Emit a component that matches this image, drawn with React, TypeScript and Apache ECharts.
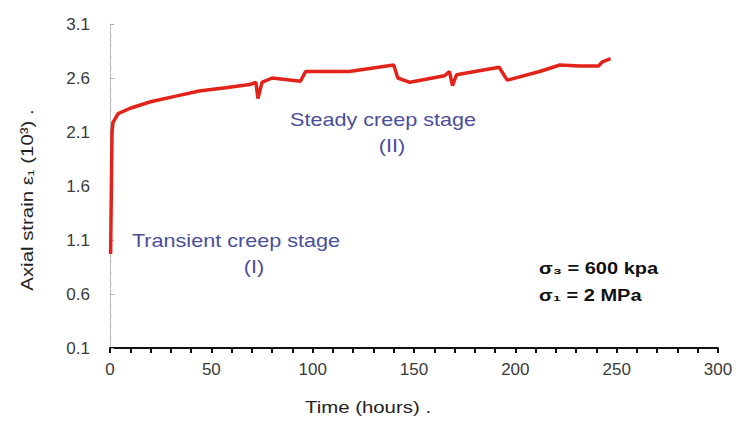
import React, { useEffect, useRef } from "react";
import * as echarts from "echarts";

const timeHours = [0.3, 1, 1.5, 4, 10, 20, 32, 44, 57, 69, 72, 73, 75, 80, 94, 96.5, 118, 140, 142, 148, 165, 167.5, 169, 171, 192, 196, 212, 222, 231.5, 241, 243, 247];
const axialStrain = [0.97, 2.1, 2.19, 2.27, 2.32, 2.38, 2.43, 2.48, 2.51, 2.54, 2.56, 2.41, 2.56, 2.6, 2.57, 2.66, 2.66, 2.72, 2.6, 2.56, 2.62, 2.66, 2.53, 2.63, 2.7, 2.58, 2.66, 2.72, 2.71, 2.71, 2.75, 2.78];
const xTickLabels = [0, 50, 100, 150, 200, 250, 300];
const yTickLabels = [0.1, 0.6, 1.1, 1.6, 2.1, 2.6, 3.1];

const FONT = "'Liberation Sans', Arial, sans-serif";
const ANN = "#4b4e99";

export default function App() {
  const ref = useRef<HTMLDivElement>(null);
  useEffect(() => {
    if (!ref.current) return;
    const chart = echarts.init(ref.current, undefined, { renderer: "svg" });
    const data = timeHours.map((t, i) => [t, axialStrain[i]]);
    const txt = (x: number, y: number, text: string, font: string, fill: string, align: string, sx: number, rotation = 0) => ({
      type: "text",
      x,
      y,
      scaleX: sx,
      rotation,
      style: { text, font, fill, align, verticalAlign: "middle" },
    });
    chart.setOption({
      animation: false,
      backgroundColor: "#ffffff",
      grid: { left: 110, right: 21, top: 24, bottom: 73, containLabel: false },
      xAxis: {
        type: "value",
        min: 0,
        max: 300,
        interval: 10,
        axisLine: { show: true, lineStyle: { color: "#111", width: 2 } },
        axisTick: { show: true, length: 5, lineStyle: { color: "#111", width: 2 } },
        axisLabel: {
          fontFamily: FONT,
          fontSize: 17,
          color: "#3a3a3a",
          margin: 13,
          showMinLabel: true,
          showMaxLabel: true,
          formatter: (v: number) => (xTickLabels.includes(v) ? String(v) : ""),
        },
        splitLine: { show: false },
      },
      yAxis: {
        type: "value",
        min: 0.1,
        max: 3.1,
        interval: 0.5,
        axisLine: { show: true, lineStyle: { color: "#bbbbbb", width: 1 } },
        axisTick: { show: true, inside: true, length: 4, lineStyle: { color: "#aaaaaa" } },
        minorTick: { show: true, splitNumber: 5, length: 2, lineStyle: { color: "#cccccc" } },
        axisLabel: {
          fontFamily: FONT,
          fontSize: 17,
          color: "#3a3a3a",
          margin: 20,
          formatter: (v: number) => {
            const r = Math.round(v * 10) / 10;
            return yTickLabels.includes(r) ? r.toFixed(1) : "";
          },
        },
        splitLine: { show: false },
      },
      series: [
        {
          type: "line",
          data,
          symbol: "none",
          lineStyle: { color: "#e2231a", width: 3.5 },
          itemStyle: { color: "#e2231a" },
        },
      ],
      graphic: [
        txt(368, 407, "Time (hours) .", `17px ${FONT}`, "#222", "center", 1.2),
        txt(27, 200, "Axial strain ε₁ (10³) .", `17px ${FONT}`, "#222", "center", 1.2, Math.PI / 2),
        txt(383, 120, "Steady creep stage", `18px ${FONT}`, ANN, "center", 1.2),
        txt(392, 146, "(II)", `18px ${FONT}`, ANN, "center", 1.2),
        txt(236, 241, "Transient creep stage", `18px ${FONT}`, ANN, "center", 1.2),
        txt(254, 267, "(I)", `18px ${FONT}`, ANN, "center", 1.2),
        txt(539, 269, "σ₃ = 600 kpa", `bold 16px ${FONT}`, "#111", "left", 1.25),
        txt(539, 296, "σ₁ = 2 MPa", `bold 16px ${FONT}`, "#111", "left", 1.25),
      ],
    });
    return () => chart.dispose();
  }, []);
  return <div ref={ref} style={{ width: 739, height: 421, position: "absolute", left: 0, top: 0 }} />;
}
